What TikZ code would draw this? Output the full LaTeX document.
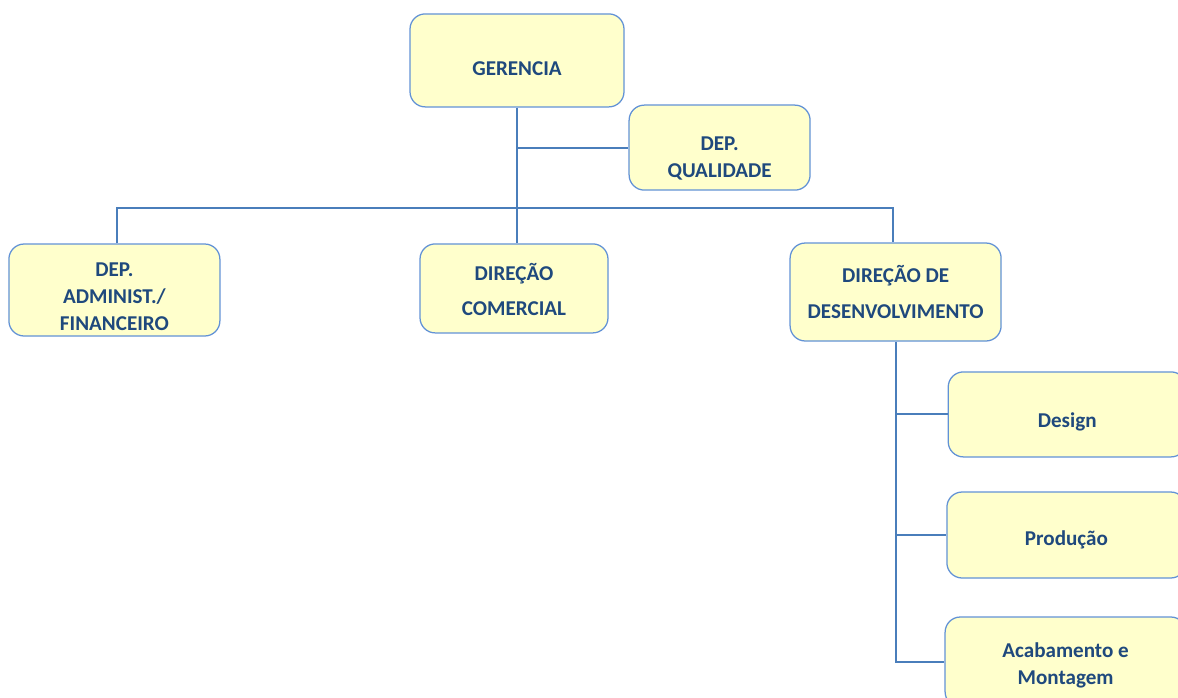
\documentclass[tikz,border=0pt]{standalone}
\usepackage{fontspec}
\setmainfont{Carlito}
\usetikzlibrary{positioning}
\definecolor{boxfill}{RGB}{255,255,204}
\definecolor{boxline}{RGB}{98,146,214}
\definecolor{linkline}{RGB}{74,126,187}
\definecolor{boxtext}{RGB}{31,73,125}
\newcommand{\orglift}[1]{\rule{0pt}{#1}}
\begin{document}
\begin{tikzpicture}[
    org/.style={draw=boxline, fill=boxfill, line width=0.9pt, rounded corners=0.38cm,
        font=\fontsize{15}{19}\selectfont\bfseries, text=boxtext, align=center, inner sep=0pt},
    link/.style={draw=linkline, line width=1.3pt}]
    % Page
    \useasboundingbox (0,0) rectangle (29.45,-17.425);
    % Boxes
    \node[org, minimum width=5.35cm, minimum height=2.325cm] (ger) at (12.925,-1.51) {\orglift{21pt}GERENCIA};
    \node[org, minimum width=4.525cm, minimum height=2.125cm] (qua) at (17.99,-3.69) {\orglift{25pt}DEP.\\QUALIDADE};
    \node[org, minimum width=5.275cm, minimum height=2.3cm] (adm) at (2.86,-7.25) {\orglift{19.5pt}DEP.\\ADMINIST./\\FINANCEIRO};
    \node[org, minimum width=4.7cm, minimum height=2.225cm] (com) at (12.85,-7.21) {\orglift{14pt}DIREÇÃO\\[6pt]COMERCIAL};
    \node[org, minimum width=5.275cm, minimum height=2.45cm] (des) at (22.39,-7.3) {\orglift{12pt}DIREÇÃO DE\\[6pt]DESENVOLVIMENTO};
    \node[org, minimum width=5.95cm, minimum height=2.125cm] (dsg) at (26.68,-10.36) {\orglift{21pt}Design};
    \node[org, minimum width=5.975cm, minimum height=2.15cm] (pro) at (26.66,-13.375) {\orglift{17pt}Produção};
    \node[org, minimum width=6.025cm, minimum height=2.25cm] (aca) at (26.64,-16.55) {\orglift{15pt}Acabamento e\\Montagem};
    % Coordinate
    \coordinate (bus) at (0,-5.2);
    % Lines
    \draw[link] (ger.south) -- (ger.south |- com.north);
    \draw[link] (ger.south |- qua.west) -- (qua.west);
    \draw[link] ([xshift=2pt]adm.north) -- ([xshift=2pt]adm.north |- bus) -- ([xshift=-2pt]des.north |- bus) -- ([xshift=-2pt]des.north);
    \draw[link] (des.south) -- (des.south |- aca.west) -- (aca.west);
    \draw[link] (des.south |- dsg.west) -- (dsg.west);
    \draw[link] (des.south |- pro.west) -- (pro.west);
\end{tikzpicture}
\end{document}
